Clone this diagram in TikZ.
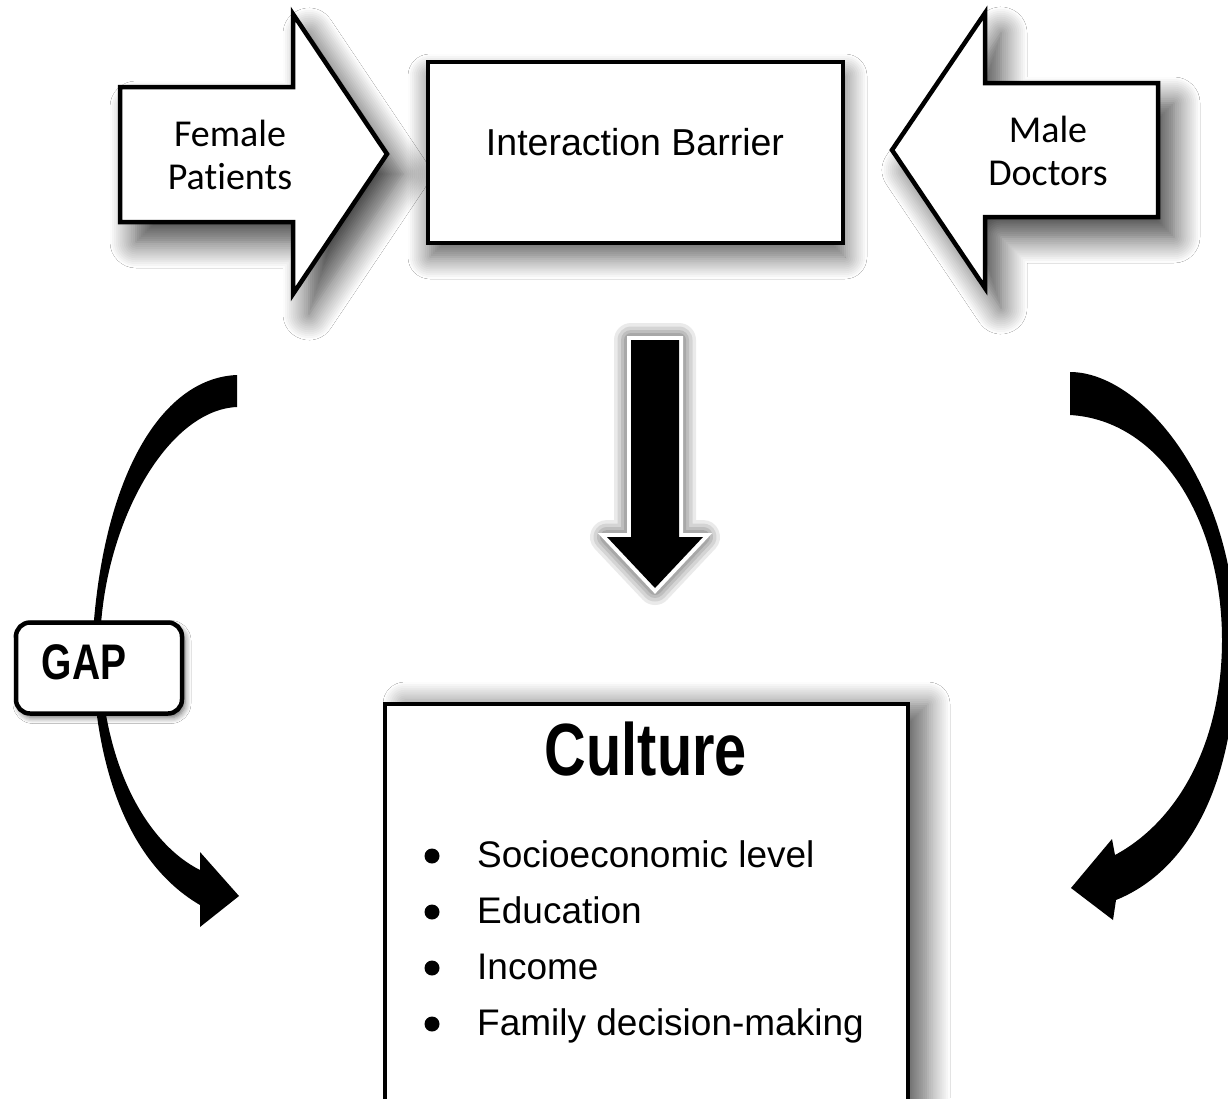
\documentclass[tikz,border=0pt]{standalone}
\usepackage{fontspec}
\setmainfont{Liberation Sans}
\newfontfamily\calib[Ligatures=NoCommon]{Carlito}
\newfontfamily\condb[FakeStretch=0.78]{Liberation Sans Bold}
\usetikzlibrary{shadows.blur}
\begin{document}
\begin{tikzpicture}[x=1pt,y=-1pt,
  outl/.style={draw=black, line width=4.5pt, fill=white, line join=miter},
  bigshadow/.style={blur shadow={shadow xshift=16pt, shadow yshift=-20pt, shadow blur radius=26pt, shadow opacity=75, shadow blur steps=14}},
  boxshadow/.style={blur shadow={shadow xshift=2pt, shadow yshift=-14pt, shadow blur radius=22pt, shadow opacity=65, shadow blur steps=12}},
  smallshadow/.style={blur shadow={shadow xshift=3pt, shadow yshift=-4pt, shadow blur radius=6pt, shadow opacity=60, shadow blur steps=6}},
  sideshadow/.style={blur shadow={shadow xshift=20pt, shadow yshift=0pt, shadow blur radius=22pt, shadow opacity=60, shadow blur steps=12}},
  arrowtxt/.style={font=\calib\fontsize{38}{43}\selectfont, align=center, inner sep=0pt},
  bodytxt/.style={font=\fontsize{37}{44}\selectfont, inner sep=0pt, anchor=base west},
  dot/.style={circle, fill=black, inner sep=0pt, minimum size=15pt},
]
\clip (0,0) rectangle (1228,1098);
\fill[white] (0,0) rectangle (1228,1098);

% Female Patients block arrow
\draw[outl, bigshadow] (120,87) -- (293,87) -- (293,14) -- (387,154) -- (293,294) -- (293,222) -- (120,222) -- cycle;
% Male Doctors block arrow
\draw[outl, bigshadow] (1158,83) -- (985,83) -- (985,13) -- (892,150) -- (985,288) -- (985,217) -- (1158,217) -- cycle;
% Interaction Barrier box
\draw[outl, boxshadow] (428,62) rectangle (843,243);

\node[arrowtxt] (female) at (230,155) {Female\\Patients};
\node[arrowtxt] (male) at (1048,151) {Male\\Doctors};
\node[font=\fontsize{37.5}{44}\selectfont, inner sep=0pt, anchor=base] (barrier) at (635,155) {Interaction Barrier};

% Down arrow with halo
\def\downpath{(631,340) -- (679,340) -- (679,537) -- (703,537) -- (655,588) -- (607,537) -- (631,537) -- cycle}
\foreach \w/\o in {34/0.16, 27/0.2, 20/0.26, 14/0.34} {
  \draw[gray, line width=\w pt, opacity=\o, line join=round] \downpath;
}
\draw[white, line width=8pt, line join=miter] \downpath;
\fill[black] \downpath;
\coordinate (downtip) at (655,588);

% Left curved arrow
\fill[black] (237,375) .. controls (160,378) and (100,480) .. (92,650)
  .. controls (95,790) and (140,870) .. (200,905)
  -- (200,927) -- (239,896) -- (200,852) -- (200,870)
  .. controls (150,845) and (102,770) .. (100,650)
  .. controls (100,530) and (165,410) .. (237,407) -- cycle;

% Right curved arrow
\fill[black] (1070,372) .. controls (1140,372) and (1234,480) .. (1236,640)
  .. controls (1238,780) and (1190,870) .. (1116,900)
  -- (1113,920) -- (1071,888) -- (1112,839) -- (1115,855)
  .. controls (1180,820) and (1222,740) .. (1222,640)
  .. controls (1222,520) and (1160,420) .. (1070,415) -- cycle;

% GAP box
\node[draw=black, line width=4.5pt, fill=white, rounded corners=14pt,
      minimum width=166pt, minimum height=91pt, inner sep=0pt, smallshadow] (gap) at (99,668) {};
\node[font=\condb\fontsize{50}{56}\selectfont, inner sep=0pt, anchor=base] (gaptext) at (84,679) {GAP};

% Culture box
\draw[outl, sideshadow] (385,704) rectangle (908,1130);
\node[font=\condb\fontsize{74}{80}\selectfont, inner sep=0pt, anchor=base] (culture) at (646,775) {Culture};

\node[dot] (b1) at (432,856) {};
\node[dot] (b2) at (432,912) {};
\node[dot] (b3) at (432,968) {};
\node[dot] (b4) at (432,1024) {};
\node[bodytxt] (t1) at (477,867) {Socioeconomic level};
\node[bodytxt] (t2) at (477,923) {Education};
\node[bodytxt] (t3) at (477,979) {Income};
\node[bodytxt] (t4) at (477,1035) {Family decision-making};
\end{tikzpicture}
\end{document}
